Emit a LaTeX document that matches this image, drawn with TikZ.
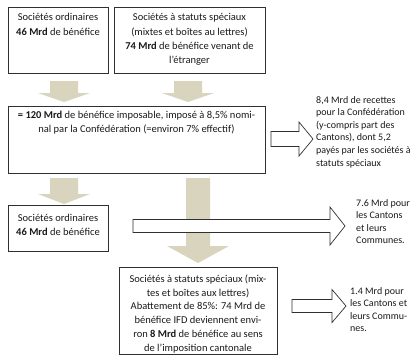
\documentclass[tikz,border=0pt]{standalone}
\usepackage{fontspec}
\setmainfont{Carlito}
\usetikzlibrary{calc}
\definecolor{tanfill}{HTML}{D8D4BE}
\definecolor{lineclr}{HTML}{303030}
\definecolor{txtclr}{HTML}{1A1A1A}
% #1 style, #2 start coordinate, #3 angle, #4 length, #5 shaft half width, #6 head half width, #7 head length
\newcommand{\blkarrow}[7]{\path[#1, shift={(#2)}, rotate=#3] (0,-#5) -- ({#4-#7},-#5) -- ({#4-#7},-#6) -- (#4,0) -- ({#4-#7},#6) -- ({#4-#7},#5) -- (0,#5) -- cycle;}
\tikzset{
  box/.style={draw=lineclr, line width=0.9pt, fill=white, rectangle, inner sep=0pt, outer sep=0pt, anchor=north west},
  btxt/.style={font=\fontsize{10.5}{14.2}\selectfont, align=center, inner sep=0pt, anchor=north, text=txtclr},
  rtxt/.style={font=\fontsize{10}{12.6}\selectfont, align=left, inner sep=0pt, anchor=north west, text=txtclr},
  tanarr/.style={fill=tanfill},
  hollowarr/.style={draw=lineclr, fill=white, line width=0.7pt, line join=miter},
}
\begin{document}
\begin{tikzpicture}[x=1pt,y=-1pt]
\useasboundingbox[fill=white] (0,0) rectangle (419,360);
% boxes
\node[box, minimum width=100pt, minimum height=66pt] (A) at (8,7) {};
\node[box, minimum width=151pt, minimum height=66pt] (B) at (114,7) {};
\node[box, minimum width=257pt, minimum height=67pt] (C) at (8,106) {};
\node[box, minimum width=100pt, minimum height=46pt] (D) at (8,205) {};
\node[box, minimum width=158pt, minimum height=87pt] (E) at (119,267) {};
% box texts
\node[btxt] (At) at (58,13.5) {Sociétés ordinaires\\\textbf{46 Mrd} de bénéfice};
\node[btxt] (Bt) at (189.5,13.5) {Sociétés à statuts spéciaux\\(mixtes et boîtes au lettres)\\\textbf{74 Mrd} de bénéfice venant de\\l'étranger};
\node[btxt] (Ct) at (136.5,110.5) {\textbf{= 120 Mrd} de bénéfice imposable, imposé à 8,5\% nomi-\\nal par la Confédération (=environ 7\% effectif)};
\node[btxt] (Dt) at (58,213.5) {Sociétés ordinaires\\\textbf{46 Mrd} de bénéfice};
\node[btxt, font=\fontsize{10.5}{13.8}\selectfont] (Et) at (198,274.5) {Sociétés à statuts spéciaux (mix-\\tes et boîtes aux lettres)\\Abattement de 85\%: 74 Mrd de\\bénéfice IFD deviennent envi-\\ron \textbf{8 Mrd} de bénéfice au sens\\de l'imposition cantonale};
% right texts
\node[rtxt] (R1) at (316,96) {8,4 Mrd de recettes\\pour la Confédération\\(y-compris part des\\Cantons), dont 5,2\\payés par les sociétés à\\statuts spéciaux};
\node[rtxt] (R2) at (356,199) {7.6 Mrd pour\\les Cantons\\et leurs\\Communes.};
\node[rtxt] (R3) at (350,287) {1.4 Mrd pour\\les Cantons et\\leurs Commu-\\nes.};
% arrow anchor coordinates
\coordinate (a1) at (64,81);
\coordinate (a2) at (188,81);
\coordinate (a3) at (64,178);
\coordinate (a4) at (198,178);
\coordinate (h1) at (271,139);
\coordinate (h2) at (133,226);
\coordinate (h3) at (292,306);
% tan block arrows
\blkarrow{tanarr}{a1}{-90}{21}{14}{26}{9}
\blkarrow{tanarr}{a2}{-90}{21}{14}{26}{9}
\blkarrow{tanarr}{a3}{-90}{26}{14}{26}{10}
\blkarrow{tanarr}{a4}{-90}{85}{12}{31}{17}
% hollow arrows
\blkarrow{hollowarr}{h1}{0}{42}{7.5}{17}{14}
\blkarrow{hollowarr}{h2}{0}{212}{6.5}{19}{15}
\blkarrow{hollowarr}{h3}{0}{54}{6.5}{16.5}{14}
\end{tikzpicture}
\end{document}
